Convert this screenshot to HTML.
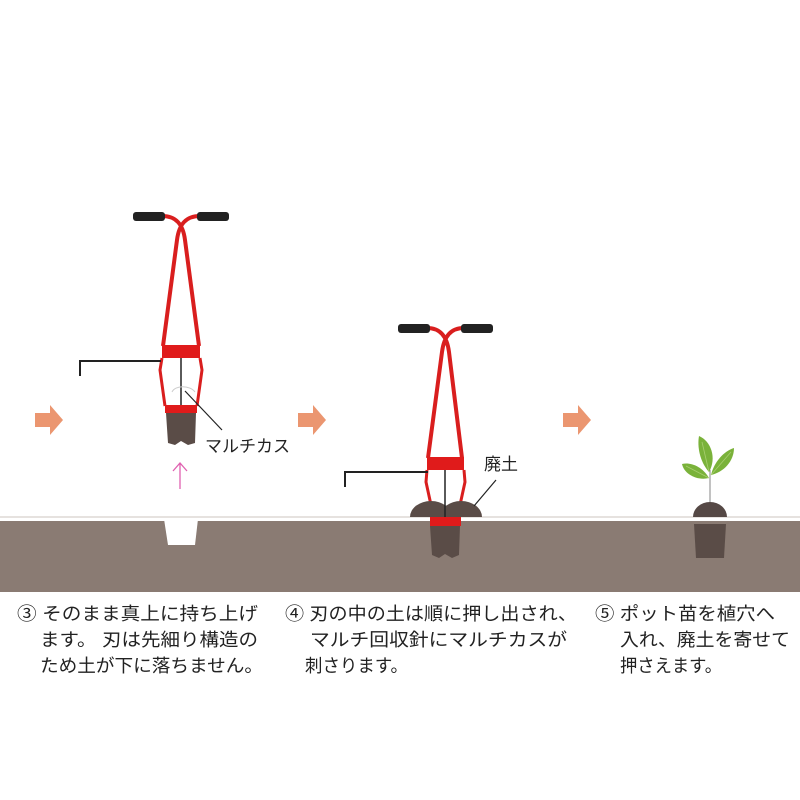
<!DOCTYPE html>
<html><head><meta charset="utf-8"><style>
html,body{margin:0;padding:0;background:#fff;width:800px;height:800px;overflow:hidden}
text{font-family:"Liberation Sans","Noto Sans CJK JP",sans-serif;fill:#222}
</style></head><body>
<svg width="800" height="800" viewBox="0 0 800 800" xmlns="http://www.w3.org/2000/svg">
<rect x="0" y="516" width="800" height="2" fill="#e6e2df"/>
<rect x="0" y="521" width="800" height="71" fill="#8a7b73"/>
<path d="M164 519 L198 519 L195 545 L168 545 Z" fill="#fff"/>

<g fill="#eb9670">
<path d="M35 413 H50 V405 L63 420 L50 435 V427 H35 Z"/>
<path d="M298 413 H313 V405 L326 420 L313 435 V427 H298 Z"/>
<path d="M563 413 H578 V405 L591 420 L578 435 V427 H563 Z"/>
</g>

<!-- Tool 1 -->
<g>
<path d="M162 216 C176 216 183 224 185 240 L199 346 M200 216 C186 216 179 224 177 240 L163 346" stroke="#d91e1e" stroke-width="4" fill="none"/>
<rect x="133" y="212" width="32" height="9" rx="3" fill="#222"/>
<rect x="197" y="212" width="32" height="9" rx="3" fill="#222"/>
<rect x="162" y="345" width="38" height="13" fill="#e01b1b"/>
<path d="M162 358 L160 370 L165 406 M200 358 L202 370 L197 406" stroke="#d91e1e" stroke-width="3" fill="none"/>
<rect x="165" y="405" width="32" height="8" fill="#e01b1b"/>
<path d="M166 413 H196 L195 443 L188 445 L181 441 L175 445 L168 443 Z" fill="#5a4c47"/>
<path d="M80 376 V361 H161" stroke="#222" stroke-width="2" fill="none"/>
<path d="M181 358 V405" stroke="#222" stroke-width="1.5"/>
<path d="M172 392 C175 385 190 385 195 392" stroke="#ccc" stroke-width="1" fill="none"/>
<path d="M185 391 L222 430" stroke="#222" stroke-width="1.2"/>
<text x="205" y="452" font-size="17">マルチカス</text>
<path d="M180 489 V463 M173 471 L180 463 L187 471" stroke="#e060b0" stroke-width="1.3" fill="none"/>
</g>

<!-- Tool 2 -->
<g>
<path d="M427 328 C440 328 447 336 449 352 L462 458 M464 328 C451 328 444 336 442 352 L428 458" stroke="#d91e1e" stroke-width="4" fill="none"/>
<rect x="398" y="324" width="32" height="9" rx="3" fill="#222"/>
<rect x="461" y="324" width="32" height="9" rx="3" fill="#222"/>
<rect x="427" y="457" width="37" height="13" fill="#e01b1b"/>
<path d="M427 470 L426 482 L431 505 M464 470 L465 482 L460 505" stroke="#d91e1e" stroke-width="3" fill="none"/>
<path d="M410 517 A21 16 0 0 1 452 517 Z" fill="#5a4c47"/>
<path d="M440 517 A21 16 0 0 1 482 517 Z" fill="#5a4c47"/>
<rect x="430" y="517" width="31" height="9" fill="#e01b1b"/>
<path d="M430 526 H460 L459 555 L452 558 L445 554 L439 558 L432 555 Z" fill="#5a4c47"/>
<path d="M345 487 V472 H428" stroke="#222" stroke-width="2" fill="none"/>
<path d="M445 470 V517" stroke="#222" stroke-width="1.5"/>
<path d="M496 480 L474 506" stroke="#222" stroke-width="1.2"/>
<text x="484" y="470" font-size="17">廃土</text>
</g>

<!-- Plant -->
<g>
<path d="M693 517 A17 15 0 0 1 727 517 Z" fill="#554845"/>
<path d="M694 524 H726 L724 558 H696 Z" fill="#5a4c47"/>
<path d="M710 470 V502" stroke="#999" stroke-width="1.2"/>
<path d="M709 478 C702 466 690 462 682 464 C684 474 697 481 709 478 Z" fill="#7ab23a"/>
<path d="M709 472 C700 462 697 447 699 436 C711 441 717 458 709 472 Z" fill="#7ab23a"/>
<path d="M711 475 C714 462 724 451 734 448 C734 461 724 472 711 475 Z" fill="#7ab23a"/>
<path d="M709 472 L702 442 M709 478 L686 466 M711 475 L731 452" stroke="#a8cf70" stroke-width="0.8"/>
</g>

<g font-size="18">
<text x="17" y="620" textLength="241" lengthAdjust="spacingAndGlyphs">③ そのまま真上に持ち上げ</text>
<text x="40" y="646" textLength="218" lengthAdjust="spacingAndGlyphs">ます。 刃は先細り構造の</text>
<text x="40" y="672" textLength="223" lengthAdjust="spacingAndGlyphs">ため土が下に落ちません。</text>
<text x="285" y="620" textLength="292" lengthAdjust="spacingAndGlyphs">④ 刃の中の土は順に押し出され、</text>
<text x="310" y="646" textLength="257" lengthAdjust="spacingAndGlyphs">マルチ回収針にマルチカスが</text>
<text x="305" y="672" textLength="103" lengthAdjust="spacingAndGlyphs">刺さります。</text>
<text x="595" y="620" textLength="180" lengthAdjust="spacingAndGlyphs">⑤ ポット苗を植穴へ</text>
<text x="620" y="646" textLength="170" lengthAdjust="spacingAndGlyphs">入れ、廃土を寄せて</text>
<text x="620" y="672" textLength="102" lengthAdjust="spacingAndGlyphs">押さえます。</text>
</g>
</svg>
</body></html>
